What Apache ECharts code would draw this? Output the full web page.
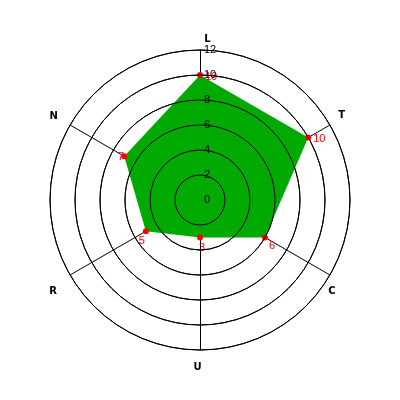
<!DOCTYPE html>
<html><head><meta charset="utf-8">
<script src="https://cdn.jsdelivr.net/npm/echarts@6/dist/echarts.min.js"></script>
<style>html,body{margin:0;padding:0;background:#fff}#c{width:400px;height:400px}</style>
</head><body><div id="c"></div>
<script>
const categories = ['L', 'T', 'C', 'U', 'R', 'N'];
const values = [10, 10, 6, 3, 5, 7];
const maxValue = 12;
const tickStep = 2;

// ECharts radar runs counter-clockwise; reorder so the chart reads clockwise
const order = [0].concat(categories.map((_, i) => i).slice(1).reverse());
const cats = order.map(i => categories[i]);
const vals = order.map(i => values[i]);

const chart = echarts.init(document.getElementById('c'), null, {renderer: 'canvas'});
function pad(dx, dy) {
  return [dy > 0 ? 2 * dy : 0, dx < 0 ? -2 * dx : 0, dy < 0 ? -2 * dy : 0, dx > 0 ? 2 * dx : 0];
}
// value label shifts (px right, px down)
const shifts = {10: [11, 1.5], 6: [7, 8], 3: [2, 10], 5: [-4, 10], 7: [-3.5, 1]};
const rich = {};
Object.keys(shifts).forEach(k => {
  rich['v' + k] = {color: '#ff0000', fontSize: 11, fontFamily: 'Liberation Sans', padding: pad(shifts[k][0], shifts[k][1])};
});
// axis name paddings [top, right, bottom, left]
const namePads = {L: [0, 0, 8, 15], T: [0, 0, 21, 10], C: [34, 0, 0, 0], U: [14, 5, 0, 0], R: [35, 15, 0, 0], N: [0, 14, 20, 0]};
const nameRich = {};
Object.keys(namePads).forEach(k => {
  nameRich['n' + k] = {color: '#000', fontWeight: 'bold', fontSize: 10, fontFamily: 'DejaVu Sans', padding: namePads[k]};
});
chart.setOption({
  animation: false,
  backgroundColor: '#fff',
  radar: {
    center: [200, 200], radius: 150, shape: 'circle', startAngle: 90,
    splitNumber: maxValue / tickStep,
    indicator: cats.map(n => ({name: n, min: 0, max: maxValue})),
    axisName: {
      color: '#000', fontWeight: 'bold', fontSize: 10, fontFamily: 'DejaVu Sans',
      formatter: n => '{n' + n + '|' + n + '}',
      rich: nameRich
    },
    nameGap: -2,
    axisLine: {lineStyle: {color: '#000', width: 1}},
    splitLine: {lineStyle: {color: '#000', width: 1}},
    splitArea: {show: false},
    axisTick: {show: false}
  },
  polar: {center: [200, 200], radius: 150},
  angleAxis: {
    startAngle: 90, type: 'value', min: 0, max: 360,
    axisLine: {show: false}, axisTick: {show: false}, axisLabel: {show: false}, splitLine: {show: false}
  },
  radiusAxis: {
    type: 'value', min: 0, max: maxValue, interval: tickStep, z: 10,
    axisLine: {show: false}, axisTick: {show: false},
    axisLabel: {
      show: true, align: 'left', margin: -4, color: '#000', fontSize: 11, fontFamily: 'Liberation Sans'
    },
    splitLine: {show: true, lineStyle: {color: '#000', width: 1}}
  },
  series: [{
    type: 'radar',
    symbol: 'circle', symbolSize: 6,
    itemStyle: {color: '#ff0000'},
    lineStyle: {width: 0, opacity: 0},
    areaStyle: {color: '#00aa00', opacity: 1},
    label: {
      show: true, position: 'inside',
      formatter: p => '{v' + p.value + '|' + p.value + '}',
      rich: rich
    },
    data: [{value: vals}]
  }]
});
</script></body></html>
